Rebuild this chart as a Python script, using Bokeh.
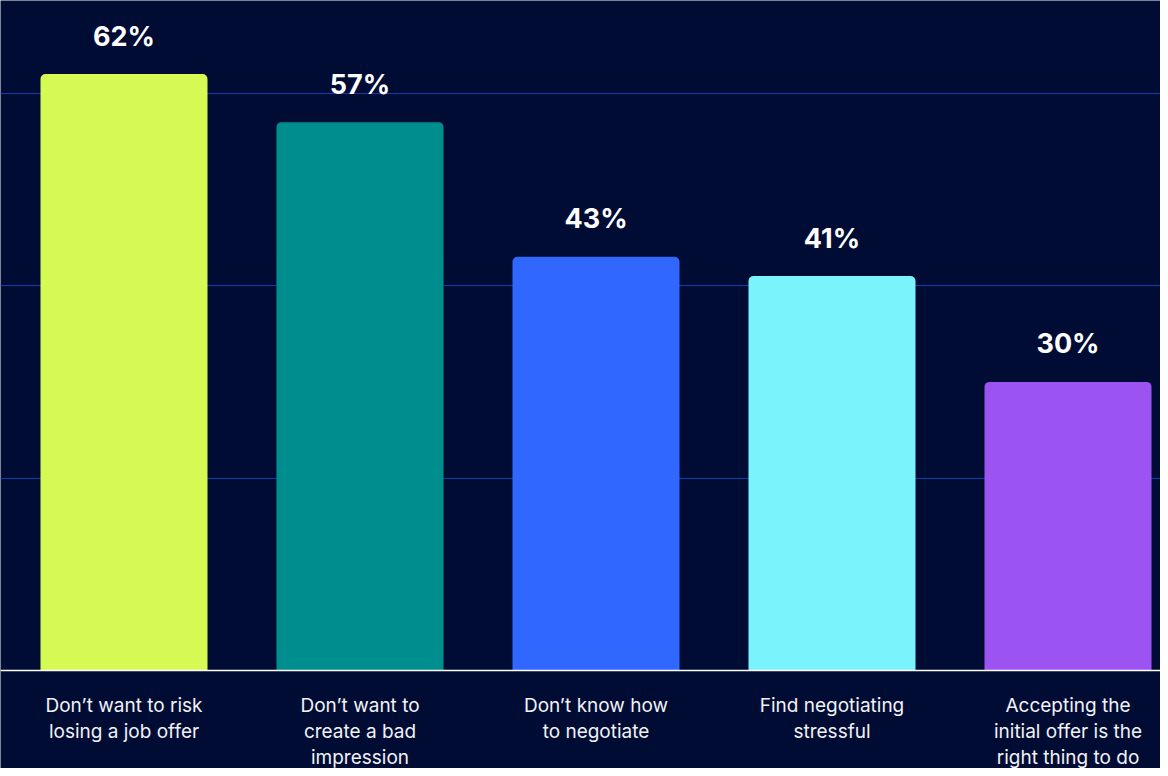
from bokeh.plotting import figure
from bokeh.models import ColumnDataSource, Range1d, FixedTicker, Span
from bokeh.core.properties import value
from bokeh.embed import file_html
from bokeh.resources import INLINE

# ---- data ----
categories = [
    "Don\u2019t want to risk\nlosing a job offer",
    "Don\u2019t want to\ncreate a bad\nimpression",
    "Don\u2019t know how\nto negotiate",
    "Find negotiating\nstressful",
    "Accepting the\ninitial offer is the\nright thing to do",
]
values = [62, 57, 43, 41, 30]
bar_colors = ["#d6fa54", "#008d8d", "#3068ff", "#7af3fd", "#9b53f2"]
grid_ticks = [20, 40, 60]

# ---- layout constants ----
W, H = 1160, 768
BG = "#000c33"
px_per_unit = 9.62
baseline_px = 670          # from top of figure
band_px = 236.0
first_center_px = 123.5

y_start = -(H - baseline_px) / px_per_unit
y_end = baseline_px / px_per_unit
x_start = -first_center_px / band_px
x_end = (W - first_center_px) / band_px

p = figure(width=W, height=H, output_backend="svg", toolbar_location=None,
           x_range=Range1d(x_start, x_end), y_range=Range1d(y_start, y_end),
           min_border=0, min_border_left=0, min_border_right=0,
           min_border_top=0, min_border_bottom=0,
           background_fill_color=BG, border_fill_color=BG, outline_line_color=None)
p.axis.visible = False
p.xgrid.visible = False
p.ygrid.ticker = FixedTicker(ticks=grid_ticks)
p.ygrid.grid_line_color = "#0f3fae"
p.ygrid.grid_line_width = 1.2

xs = list(range(len(values)))
src = ColumnDataSource(dict(x=xs, top=values, color=bar_colors,
                            label=[f"{v}%" for v in values]))
p.vbar(x="x", top="top", bottom=0, width=167 / band_px, fill_color="color",
       line_color=None, border_radius=(5, 5, 0, 0), source=src)

p.add_layout(Span(location=0, dimension="width", line_color="#ffffff", line_width=1.5))

p.text(x="x", y="top", text="label", source=src, text_align="center",
       text_baseline="alphabetic", y_offset=-38, text_color="#ffffff",
       text_font=value("Inter"), text_font_style="bold", text_font_size="27px")

# category labels, split into lines
lx, ly, lt, lo = [], [], [], []
for i, c in enumerate(categories):
    for j, line in enumerate(c.split("\n")):
        lx.append(i)
        ly.append(0)
        lt.append(line)
        lo.append(35 + 26 * j)
lsrc = ColumnDataSource(dict(x=lx, y=ly, text=lt, off=lo))
p.text(x="x", y="y", text="text", y_offset="off", source=lsrc,
       text_align="center", text_baseline="alphabetic", text_color="#f2f2f5",
       text_font=value("Inter"), text_font_size="19px")

open("out.html", "w").write(file_html(p, INLINE))
